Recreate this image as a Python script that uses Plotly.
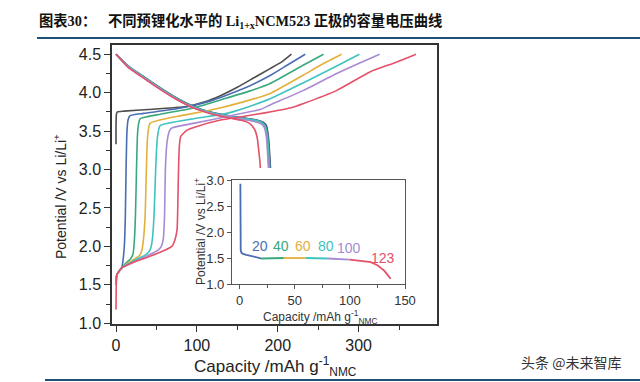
import plotly.graph_objects as go
import numpy as np

# ---------------- data ----------------
SERIES_NAMES = ["0", "20", "40", "60", "80", "100", "123"]
SERIES_COLORS = ["#4d4d4d", "#4a6db3", "#3aa87c", "#e3b03c", "#3ec3bf", "#a68bd3", "#e5506a"]

# charge curves (x: capacity mAh/g, v: potential V)
CHG_X_0 = [0, 0, 0.5, 1.5, 10, 40, 87, 110, 129, 150, 170, 190, 205, 217]
CHG_V_0 = [3.33, 3.6, 3.72, 3.75, 3.76, 3.78, 3.82, 3.88, 3.96, 4.07, 4.19, 4.31, 4.4, 4.5]
CHG_X_20 = [0, 0.5, 1, 4, 7, 9, 10.5, 11.5, 12.4, 13.5, 15, 17.3, 34, 75, 116, 157, 190, 212, 234]
CHG_V_20 = [1.5, 1.6, 1.63, 1.68, 1.72, 1.85, 2.05, 2.4, 3.0, 3.5, 3.65, 3.70, 3.73, 3.79, 3.89, 4.05, 4.22, 4.36, 4.5]
CHG_X_40 = [0, 0.5, 1, 4, 7, 12, 18, 21, 22.5, 24, 25.3, 26.5, 28, 29.7, 55, 96, 137, 165, 190.6, 232, 256.6]
CHG_V_40 = [1.5, 1.6, 1.63, 1.68, 1.72, 1.78, 1.84, 1.9, 2.05, 2.4, 3.0, 3.45, 3.6, 3.66, 3.72, 3.80, 3.93, 4.02, 4.12, 4.36, 4.5]
CHG_X_60 = [0, 0.5, 1, 4, 7, 15, 22, 29, 32, 34, 36, 37.5, 39, 42, 75, 116, 157.5, 190.6, 232, 255, 279]
CHG_V_60 = [1.5, 1.6, 1.63, 1.68, 1.72, 1.78, 1.83, 1.88, 1.95, 2.1, 2.4, 3.0, 3.42, 3.6, 3.69, 3.77, 3.88, 3.99, 4.23, 4.37, 4.5]
CHG_X_80 = [0, 0.5, 1, 4, 7, 15, 25, 35, 40, 43, 45, 47, 49, 51, 54.5, 95.7, 137, 165, 190.6, 232, 270, 301]
CHG_V_80 = [1.5, 1.6, 1.63, 1.68, 1.72, 1.77, 1.83, 1.88, 1.92, 1.98, 2.1, 2.4, 3.0, 3.4, 3.57, 3.66, 3.73, 3.82, 3.92, 4.13, 4.33, 4.5]
CHG_X_100 = [0, 0.5, 1, 4, 7, 15, 25, 35, 45, 52, 56, 58.5, 60, 61, 63, 66, 69, 95.7, 137, 178, 190.6, 232, 273, 300, 326]
CHG_V_100 = [1.5, 1.6, 1.63, 1.68, 1.72, 1.76, 1.81, 1.86, 1.91, 1.95, 2.0, 2.1, 2.4, 3.0, 3.35, 3.5, 3.54, 3.6, 3.69, 3.78, 3.84, 4.03, 4.25, 4.38, 4.5]
CHG_X_123 = [0, 0.3, 1, 4, 7, 21, 42, 60, 69, 73, 75.5, 76.5, 77.3, 78.3, 80, 87.5, 100, 128, 157, 186, 215, 232, 273, 314, 345, 371]
CHG_V_123 = [1.18, 1.5, 1.63, 1.68, 1.72, 1.79, 1.87, 1.95, 2.0, 2.09, 2.22, 2.6, 3.0, 3.3, 3.43, 3.51, 3.56, 3.64, 3.69, 3.74, 3.8, 3.86, 4.03, 4.27, 4.39, 4.5]

# discharge curves
DIS_X_0 = [0, 15, 34, 55, 75, 96, 116, 145, 174, 182, 186, 188.5, 190, 191]
DIS_V_0 = [4.5, 4.35, 4.21, 4.06, 3.93, 3.82, 3.75, 3.69, 3.645, 3.615, 3.57, 3.42, 3.2, 3.02]
DIS_X_20 = [0, 15, 34, 55, 75, 96, 116, 145, 174, 181.5, 185.5, 188, 189.5, 190.5]
DIS_V_20 = [4.5, 4.345, 4.205, 4.055, 3.925, 3.815, 3.745, 3.685, 3.64, 3.61, 3.56, 3.42, 3.2, 3.02]
DIS_X_40 = [0, 15, 34, 55, 75, 96, 116, 145, 174, 181, 185, 187.5, 189, 190]
DIS_V_40 = [4.5, 4.34, 4.2, 4.05, 3.92, 3.81, 3.74, 3.68, 3.635, 3.6, 3.55, 3.42, 3.2, 3.02]
DIS_X_60 = [0, 15, 34, 55, 75, 96, 116, 145, 172, 180, 184, 186.5, 188, 189]
DIS_V_60 = [4.5, 4.335, 4.195, 4.045, 3.915, 3.805, 3.735, 3.675, 3.63, 3.6, 3.55, 3.42, 3.2, 3.02]
DIS_X_80 = [0, 15, 34, 55, 75, 96, 116, 145, 173, 180.5, 184.5, 187, 188.5, 189.5]
DIS_V_80 = [4.5, 4.345, 4.205, 4.055, 3.925, 3.815, 3.745, 3.685, 3.64, 3.61, 3.56, 3.42, 3.2, 3.02]
DIS_X_100 = [0, 15, 34, 55, 75, 96, 116, 145, 171, 179.5, 183.5, 186, 187.5, 188.5]
DIS_V_100 = [4.5, 4.335, 4.195, 4.045, 3.915, 3.805, 3.735, 3.675, 3.625, 3.595, 3.545, 3.42, 3.2, 3.02]
DIS_X_123 = [0, 15, 34, 55, 75, 96, 116, 140, 155, 165, 171, 174.5, 176.5, 178, 178.5]
DIS_V_123 = [4.5, 4.33, 4.19, 4.04, 3.91, 3.8, 3.73, 3.67, 3.64, 3.6, 3.53, 3.42, 3.25, 3.1, 3.02]

CHG_X = [CHG_X_0, CHG_X_20, CHG_X_40, CHG_X_60, CHG_X_80, CHG_X_100, CHG_X_123]
CHG_V = [CHG_V_0, CHG_V_20, CHG_V_40, CHG_V_60, CHG_V_80, CHG_V_100, CHG_V_123]
DIS_X = [DIS_X_0, DIS_X_20, DIS_X_40, DIS_X_60, DIS_X_80, DIS_X_100, DIS_X_123]
DIS_V = [DIS_V_0, DIS_V_20, DIS_V_40, DIS_V_60, DIS_V_80, DIS_V_100, DIS_V_123]

# inset: pre-lithiation discharge curve
INSET_X = [0.6, 0.6, 0.7, 0.9, 1.5, 3, 6, 10, 14, 18.8, 20, 25, 30, 35, 40, 45, 50, 55, 60, 65, 70, 75, 80,
           85, 90, 95, 100, 105, 110, 115, 119, 122, 125, 128, 131, 134, 137]
INSET_V = [2.93, 2.2, 1.8, 1.65, 1.6, 1.58, 1.56, 1.54, 1.52, 1.495, 1.49, 1.49, 1.49, 1.495, 1.5, 1.5, 1.5,
           1.5, 1.5, 1.495, 1.49, 1.49, 1.49, 1.485, 1.48, 1.475, 1.47, 1.46, 1.45, 1.44, 1.42, 1.39, 1.36,
           1.31, 1.26, 1.18, 1.1]
INSET_BREAKS = [0, 20, 40, 60, 80, 100, 140]
INSET_SEG_COLORS = ["#4a6db3", "#3aa87c", "#e3b03c", "#3ec3bf", "#a68bd3", "#e5506a"]
INSET_LABELS = ["20", "40", "60", "80", "100", "123"]
INSET_LABEL_X = [18, 37.5, 57.5, 78, 99.5, 130]
INSET_LABEL_Y = [1.73, 1.73, 1.73, 1.73, 1.69, 1.5]

# ---------------- geometry ----------------
W, H = 640, 382
L, R, T, B = 112, 437, 45, 324


def px(xp):
    return (xp - L) / (R - L)


def py(yp):
    return (B - yp) / (B - T)


fig = go.Figure()

for i in range(len(SERIES_NAMES)):
    for xs, vs in ((DIS_X[i], DIS_V[i]), (CHG_X[i], CHG_V[i])):
        fig.add_trace(go.Scatter(x=xs, y=vs, mode="lines", showlegend=False,
                                 line=dict(color=SERIES_COLORS[i], width=1.6, shape="spline", smoothing=0.5),
                                 hoverinfo="skip", xaxis="x", yaxis="y"))

ix = np.array(INSET_X)
iv = np.array(INSET_V)
for k in range(len(INSET_SEG_COLORS)):
    lo, hi = INSET_BREAKS[k], INSET_BREAKS[k + 1]
    m = (ix >= lo) & (ix <= hi)
    fig.add_trace(go.Scatter(x=ix[m], y=iv[m], mode="lines", showlegend=False,
                             line=dict(color=INSET_SEG_COLORS[k], width=1.8),
                             hoverinfo="skip", xaxis="x2", yaxis="y2"))

for lab, lx, ly, c in zip(INSET_LABELS, INSET_LABEL_X, INSET_LABEL_Y, INSET_SEG_COLORS):
    fig.add_annotation(x=lx, y=ly, xref="x2", yref="y2", text=lab, showarrow=False,
                       xanchor="center", yanchor="middle",
                       font=dict(family="Liberation Sans, Arial", size=14, color=c))

axis_common = dict(showgrid=False, zeroline=False, showline=True, mirror=True,
                   ticks="outside", linecolor="#333333", tickcolor="#333333")

fig.update_layout(
    width=W, height=H,
    margin=dict(l=L, r=W - R, t=T, b=H - B, pad=0),
    paper_bgcolor="white", plot_bgcolor="white",
    font=dict(family="Liberation Sans, Arial", color="#222222"),
    xaxis=dict(range=[-5, 397], tickvals=[0, 100, 200, 300, 400], ticklen=6, linewidth=1.5,
               tickfont=dict(size=16), minor=dict(dtick=50, tick0=0, ticklen=4, ticks="outside",
                                                  tickcolor="#333333"),
               **axis_common),
    yaxis=dict(range=[0.99, 4.62], tickvals=[1.0, 1.5, 2.0, 2.5, 3.0, 3.5, 4.0, 4.5], tickformat=".1f",
               ticklen=6, linewidth=1.5, tickfont=dict(size=16),
               minor=dict(dtick=0.25, tick0=0, ticklen=4, ticks="outside", tickcolor="#333333"),
               **axis_common),
    xaxis2=dict(domain=[px(232), px(405)], anchor="y2", range=[-7, 150], tickvals=[0, 50, 100, 150],
                ticklen=4, linewidth=1.2, tickfont=dict(size=13, color="#333333"),
                minor=dict(dtick=25, tick0=0, ticklen=3, ticks="outside", tickcolor="#555555"),
                **{**axis_common, "linecolor": "#555555", "tickcolor": "#555555"}),
    yaxis2=dict(domain=[py(284), py(180)], anchor="x2", range=[1.0, 3.0],
                tickvals=[1.0, 1.5, 2.0, 2.5, 3.0], tickformat=".1f",
                ticklen=4, linewidth=1.2, tickfont=dict(size=13, color="#333333"),
                **{**axis_common, "linecolor": "#555555", "tickcolor": "#555555"}),
)


def note(xp, yp, text, size, color="#222222", angle=0, xanchor="center", family=None):
    f = dict(size=size, color=color)
    if family:
        f["family"] = family
    fig.add_annotation(x=px(xp), y=py(yp), xref="paper", yref="paper", showarrow=False,
                       xanchor=xanchor, yanchor="middle", textangle=angle, text=text, font=f)


# axis titles
note(60, 197, "Potential /V vs Li/Li<sup>+</sup>", 14, angle=-90)
note(275, 366, "Capacity /mAh g<sup>-1</sup><sub>NMC</sub>", 17)
note(200, 232, "Potential /V vs Li/Li<sup>+</sup>", 12, color="#333333", angle=-90)
note(320, 317, "Capacity /mAh g<sup>-1</sup><sub>NMC</sub>", 12, color="#333333")

# header
serif = "font-family:'Liberation Serif','Times New Roman',serif"
note(37, 20, "<b>图表<span style=\"%s\">30</span>：</b>" % serif, 14.3, color="#111111",
     xanchor="left", family="Noto Sans CJK SC")
note(106, 20, "<b>不同预锂化水平的 <span style=\"%s\">Li<sub>1+x</sub>NCM523</span> 正极的容量电压曲线</b>" % serif,
     14.3, color="#111111", xanchor="left", family="Noto Sans CJK SC")
fig.add_shape(type="line", xref="paper", yref="paper", x0=px(37), x1=px(640), y0=py(38), y1=py(38),
              line=dict(color="#1f4e79", width=2))
fig.add_shape(type="line", xref="paper", yref="paper", x0=px(45), x1=px(640), y0=py(380), y1=py(380),
              line=dict(color="#1f4e79", width=2))

# watermark
note(571, 362, "头条 @未来智库", 14, color="#333333", family="Noto Sans CJK SC")

fig.write_html("out.html", config={"displayModeBar": False},
               post_script="document.body.style.margin='0';")
